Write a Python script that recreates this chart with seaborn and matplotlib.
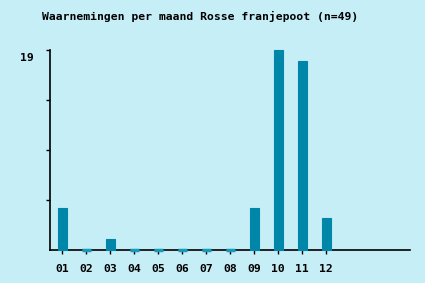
import matplotlib
matplotlib.use("Agg")
import matplotlib.pyplot as plt
import matplotlib.transforms as mtransforms
import seaborn as sns
import pandas as pd

months = ["01", "02", "03", "04", "05", "06", "07", "08", "09", "10", "11", "12"]
counts = [4, 0, 1, 0, 0, 0, 0, 0, 4, 19, 18, 3]
title = "Waarnemingen per maand Rosse franjepoot (n=49)"

bg = "#c6eef7"
bar_color = "#0086a8"

sns.set_theme(style="white")
plt.rcParams["font.family"] = ["DejaVu Sans Mono"]

fig = plt.figure(figsize=(4.25, 2.83), dpi=100, facecolor=bg)
ax = fig.add_axes([50 / 425, 33 / 283, 360 / 425, 200 / 283])
ax.set_facecolor(bg)

df = pd.DataFrame({"x": list(range(len(months))), "count": counts})
bars = ax.bar(df["x"], df["count"], width=0.375, color=bar_color,
              edgecolor=bar_color, linewidth=0.8, zorder=3)
for b in bars:
    b.set_clip_on(False)
# zero-height months: thin stub drawn over the baseline
for x, c in zip(df["x"], df["count"]):
    if c == 0:
        ax.plot([x - 0.1875, x + 0.1875], [0, 0], color="#1a98b8", lw=2.5,
                solid_capstyle="butt", zorder=4, clip_on=False)

ax.set_xlim(-0.5, 14.5)
ax.set_ylim(0, 19)
ax.set_xticks(range(len(months)))
ax.set_xticklabels(months, fontsize=8.2, fontweight="bold")
yt = [19 * k / 4 for k in range(1, 5)]
ax.set_yticks(yt)
ax.set_yticklabels(["", "", "", "19"], fontsize=8.2, fontweight="bold")
ax.tick_params(axis="both", direction="out", length=3, width=1, color="black",
               labelcolor="black", bottom=True, left=True)
ax.tick_params(axis="x", pad=7)
ax.tick_params(axis="y", pad=8.5)
offset = mtransforms.ScaledTranslation(0, -7 / 100, fig.dpi_scale_trans)
for lab in ax.get_yticklabels():
    lab.set_transform(lab.get_transform() + offset)
for s in ["top", "right"]:
    ax.spines[s].set_visible(False)
for s in ["left", "bottom"]:
    ax.spines[s].set_color("black")
    ax.spines[s].set_linewidth(1.2)
    ax.spines[s].set_zorder(2.5)
ax.grid(False)

fig.text(200 / 425, 1 - 16 / 283, title, ha="center", va="center",
         fontsize=8.2, fontweight="bold", color="black")

fig.savefig("out.png", dpi=100, facecolor=bg)
